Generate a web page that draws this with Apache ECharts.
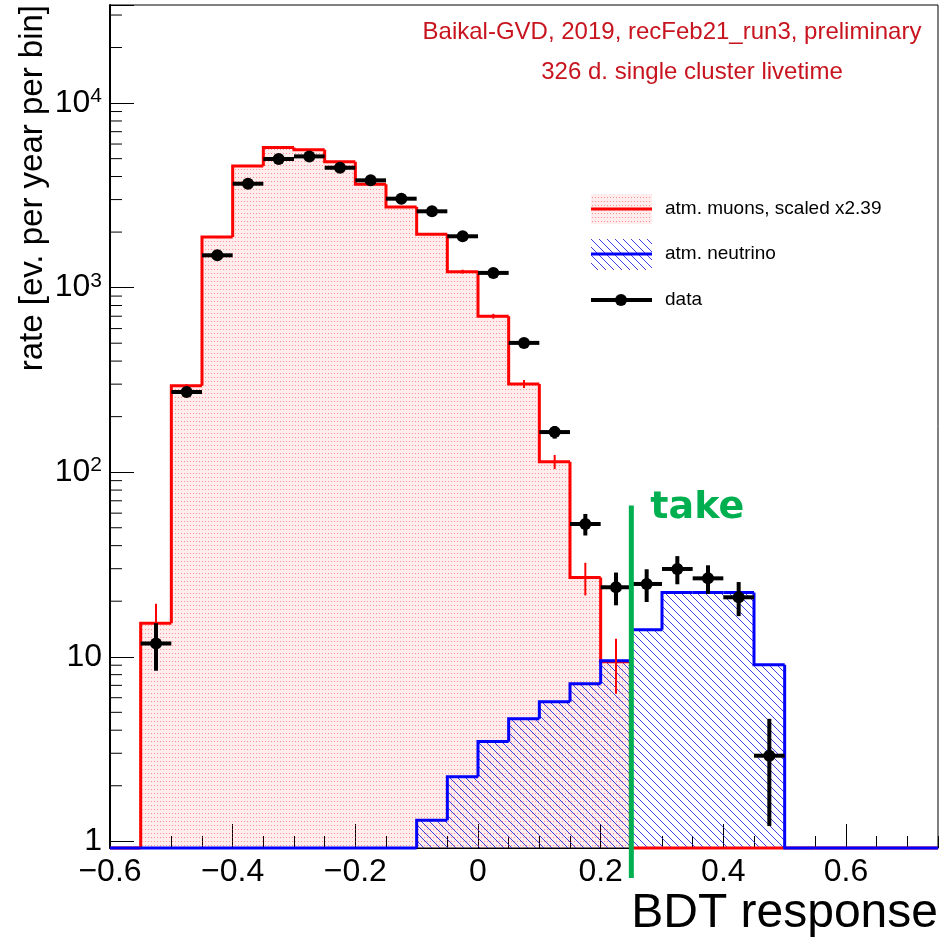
<!DOCTYPE html>
<html><head><meta charset="utf-8">
<script src="https://cdn.jsdelivr.net/npm/echarts@6/dist/echarts.min.js"></script>
<style>html,body{margin:0;padding:0;background:#fff}#c{width:946px;height:945px}</style>
</head><body><div id="c"></div>
<script>
// ---------- data ----------
const binEdges = [-0.6,-0.55,-0.5,-0.45,-0.4,-0.35,-0.3,-0.25,-0.2,-0.15,-0.1,-0.05,0,0.05,0.1,0.15,0.2,0.25,0.3,0.35,0.4,0.45,0.5,0.55,0.6,0.65,0.7,0.75];
const muons    = [0,15.2,294,1880,4560,5740,5590,4810,3630,2735,1945,1221,700,301,114,26.9,9.4,0,0,0,0,0,0,0,0,0,0];
const muonErr  = [0,4.2,6,25,40,45,45,40,35,30,25,30,21,15,10,5.4,3.1,0,0,0,0,0,0,0,0,0,0];
const neutrinos= [0,0,0,0,0,0,0,0,0,0,1.30,2.24,3.47,4.62,5.71,7.15,9.5,14.0,22.3,22.3,22.3,9.06,0,0,0,0,0];
const dataVals = [null,11.8,272,1497,3657,4978,5143,4464,3814,3034,2592,1898,1202,502,165,52.4,23.8,24.8,29.9,26.6,21.0,2.91,null,null,null,null,null];
const dataErr  = [null,3.4,16,38,60,70,72,66,62,55,50,44,35,22,13,7,4.8,5,5.2,4.7,4.4,1.7,null,null,null,null,null];
const yMajorTicks = [1,10,100,1000,10000];
const yMinorTicks = [2,3,4,5,6,7,8,9,20,30,40,50,60,70,80,90,200,300,400,500,600,700,800,900,2000,3000,4000,5000,6000,7000,8000,9000,20000,30000];
const cutValue = 0.25;
const cutLineTop = 66;
const Y_MIN = 0.92, Y_MAX = 34000;

// ---------- patterns ----------
function dotPattern() {
  const c = document.createElement('canvas'); c.width = 3; c.height = 4;
  const g = c.getContext('2d');
  g.fillStyle = 'rgba(255,0,0,0.07)'; g.fillRect(0,0,3,4);
  g.fillStyle = 'rgba(255,50,50,0.5)'; g.fillRect(1,1,1,1);
  return {image: c, repeat: 'repeat'};
}
function hatchPattern() {
  const n = 8;
  const c = document.createElement('canvas'); c.width = n; c.height = n;
  const g = c.getContext('2d'); g.fillStyle = 'rgba(30,30,220,0.85)';
  for (let i = 0; i < n; i++) g.fillRect(i, i, 1, 1);
  return {image: c, repeat: 'repeat'};
}
const RED_FILL = dotPattern();
const BLUE_FILL = hatchPattern();
const FONT = '"Liberation Sans", Arial, Helvetica, sans-serif';

// ---------- helpers ----------
function yPix(api, cs, v) { return v > Y_MIN ? api.coord([0, v])[1] : cs.y + cs.height; }
function binItems(vals) { return vals.map((v, i) => [binEdges[i], binEdges[i+1], v, i > 0 ? vals[i-1] : 0]); }

function fillRender(pattern) {
  return function (params, api) {
    const cs = params.coordSys;
    const v = api.value(2);
    if (!(v > Y_MIN)) return null;
    const x0 = api.coord([api.value(0), 1])[0], x1 = api.coord([api.value(1), 1])[0];
    const yv = yPix(api, cs, v), yb = cs.y + cs.height;
    return {type: 'rect', shape: {x: x0, y: yv, width: x1 - x0, height: yb - yv}, style: {fill: pattern}};
  };
}
function outlineRender(color) {
  return function (params, api) {
    const cs = params.coordSys;
    const v = api.value(2) || 0, pv = api.value(3) || 0;
    const x0 = api.coord([api.value(0), 1])[0], x1 = api.coord([api.value(1), 1])[0];
    const yv = yPix(api, cs, v), yp = yPix(api, cs, pv);
    return {type: 'polyline', shape: {points: [[x0, yp], [x0, yv], [x1, yv]]},
            style: {stroke: color, lineWidth: 3, fill: null, lineJoin: 'miter'}};
  };
}

const centers = binEdges.slice(0, -1).map((e, i) => (e + binEdges[i+1]) / 2);
const muonErrItems = [], dataItems = [];
muons.forEach((v, i) => { if (v > 0 && muonErr[i] > 0) muonErrItems.push([centers[i], v, muonErr[i]]); });
dataVals.forEach((v, i) => { if (v != null) dataItems.push([centers[i], v, dataErr[i], binEdges[i], binEdges[i+1]]); });

const xFmt = v => {
  if (Math.abs(v - 0.75) < 1e-6) return '';
  const r = Math.round(v * 10) / 10;
  return (r < 0 ? '\u2212' : '') + Math.abs(r);
};
const yFmt = v => {
  const l = Math.log10(v), e = Math.round(l);
  if (Math.abs(l - e) > 1e-6 || yMajorTicks.indexOf(Math.pow(10, e)) < 0) return '';
  if (e === 0) return '{b|1}';
  if (e === 1) return '{b|10}';
  return '{b|10}{s|' + e + '}';
};

const chart = echarts.init(document.getElementById('c'), null, {renderer: 'canvas'});
const option = {
  animation: false,
  backgroundColor: '#ffffff',
  grid: {left: 110, right: 8, top: 5, bottom: 97, show: true, borderColor: '#000', borderWidth: 1, backgroundColor: 'transparent'},
  xAxis: [
    {type: 'value', min: -0.6, max: 0.75, interval: 0.2, position: 'bottom',
     axisLine: {show: true, onZero: false, lineStyle: {color: '#000', width: 1}},
     axisTick: {show: true, inside: true, length: 24, lineStyle: {color: '#000', width: 1}},
     axisLabel: {margin: 8, fontSize: 32, fontFamily: FONT, color: '#000', formatter: xFmt, showMaxLabel: false},
     splitLine: {show: false}},
    {type: 'value', min: -0.6, max: 0.75, interval: 0.05, position: 'bottom',
     axisLine: {show: false, onZero: false},
     axisTick: {show: true, inside: true, length: 12, lineStyle: {color: '#000', width: 1}},
     axisLabel: {show: false}, splitLine: {show: false}}
  ],
  yAxis: {type: 'log', logBase: 10, min: Y_MIN, max: Y_MAX,
    axisLine: {show: true, onZero: false, lineStyle: {color: '#000', width: 2}},
    axisTick: {show: true, inside: true, length: 24, lineStyle: {color: '#000', width: 1}},
    axisLabel: {margin: 8, formatter: yFmt, showMinLabel: true, showMaxLabel: true,
      rich: {b: {fontSize: 32, fontFamily: FONT, color: '#000', lineHeight: 34},
             s: {fontSize: 21, fontFamily: FONT, color: '#000', lineHeight: 22, verticalAlign: 'top'}}},
    splitLine: {show: false}, minorTick: {show: false}},
  series: [
    {type: 'custom', name: 'muonFill', xAxisIndex: 0, yAxisIndex: 0, data: binItems(muons), encode: {x: 0, y: 2},
     renderItem: fillRender(RED_FILL), silent: true},
    {type: 'custom', name: 'nuFill', xAxisIndex: 0, data: binItems(neutrinos), encode: {x: 0, y: 2},
     renderItem: fillRender(BLUE_FILL), silent: true},
    {type: 'custom', name: 'muonLine', xAxisIndex: 0, data: binItems(muons), encode: {x: 0, y: 2},
     renderItem: outlineRender('#ff0000'), silent: true},
    {type: 'custom', name: 'nuLine', xAxisIndex: 0, data: binItems(neutrinos), encode: {x: 0, y: 2},
     renderItem: outlineRender('#0000ff'), silent: true},
    {type: 'custom', name: 'muonErr', xAxisIndex: 0, data: muonErrItems, encode: {x: 0, y: 1}, silent: true,
     renderItem: (params, api) => {
       const cs = params.coordSys;
       const x = api.coord([api.value(0), 1])[0], v = api.value(1), e = api.value(2);
       return {type: 'line', shape: {x1: x, y1: yPix(api, cs, v + e), x2: x, y2: yPix(api, cs, Math.max(v - e, Y_MIN * 0.999))},
               style: {stroke: '#ff0000', lineWidth: 2}};
     }},
    {type: 'custom', name: 'data', xAxisIndex: 0, data: dataItems, encode: {x: 0, y: 1}, silent: true,
     renderItem: (params, api) => {
       const cs = params.coordSys;
       const v = api.value(1), e = api.value(2);
       const p = api.coord([api.value(0), v]);
       const x0 = api.coord([api.value(3), v])[0], x1 = api.coord([api.value(4), v])[0];
       return {type: 'group', children: [
         {type: 'line', shape: {x1: x0, y1: p[1], x2: x1, y2: p[1]}, style: {stroke: '#000', lineWidth: 4}},
         {type: 'line', shape: {x1: p[0], y1: yPix(api, cs, v + e), x2: p[0], y2: yPix(api, cs, v - e)}, style: {stroke: '#000', lineWidth: 4}},
         {type: 'circle', shape: {cx: p[0], cy: p[1], r: 6}, style: {fill: '#000'}}
       ]};
     }},
    {type: 'custom', name: 'yMinor', xAxisIndex: 0, data: yMinorTicks.map(v => [-0.6, v]), encode: {x: 0, y: 1}, silent: true,
     renderItem: (params, api) => {
       const cs = params.coordSys;
       const y = api.coord([0, api.value(1)])[1];
       return {type: 'line', shape: {x1: cs.x, y1: y, x2: cs.x + 12, y2: y}, style: {stroke: '#000', lineWidth: 1}};
     }},
    {type: 'custom', name: 'cut', xAxisIndex: 0, data: [[cutValue, cutLineTop]], encode: {x: 0, y: 1}, silent: true, clip: false,
     renderItem: (params, api) => {
       const cs = params.coordSys;
       const p = api.coord([api.value(0), api.value(1)]);
       return {type: 'group', children: [
         {type: 'line', shape: {x1: p[0], y1: p[1], x2: p[0], y2: cs.y + cs.height + 30}, style: {stroke: '#00b050', lineWidth: 5}},
         {type: 'text', x: p[0] + 19, y: p[1] + 3, style: {text: 'take', fill: '#00b050', font: 'bold 38px "DejaVu Sans", sans-serif',
           align: 'left', textAlign: 'left', verticalAlign: 'middle', textVerticalAlign: 'middle'}}
       ]};
     }}
  ],
  graphic: [
    {type: 'text', x: 672, y: 32, style: {text: 'Baikal-GVD, 2019, recFeb21_run3, preliminary', fill: '#c8141e', font: '24px ' + FONT,
      align: 'center', textAlign: 'center', verticalAlign: 'middle', textVerticalAlign: 'middle'}},
    {type: 'text', x: 692, y: 72, style: {text: '326 d. single cluster livetime', fill: '#c8141e', font: '24px ' + FONT,
      align: 'center', textAlign: 'center', verticalAlign: 'middle', textVerticalAlign: 'middle'}},
    {type: 'text', x: 33, y: 5, rotation: Math.PI / 2, style: {text: 'rate [ev. per year per bin]', fill: '#000', font: '33px ' + FONT,
      align: 'right', textAlign: 'right', verticalAlign: 'middle', textVerticalAlign: 'middle'}},
    {type: 'text', x: 938, y: 914, style: {text: 'BDT response', fill: '#000', font: '48px ' + FONT,
      align: 'right', textAlign: 'right', verticalAlign: 'middle', textVerticalAlign: 'middle'}},
    // legend
    {type: 'rect', shape: {x: 591, y: 194, width: 61, height: 30}, style: {fill: RED_FILL}},
    {type: 'line', shape: {x1: 591, y1: 209, x2: 652, y2: 209}, style: {stroke: '#ff0000', lineWidth: 3}},
    {type: 'text', x: 665, y: 209, style: {text: 'atm. muons, scaled x2.39', fill: '#000', font: '19px ' + FONT,
      align: 'left', textAlign: 'left', verticalAlign: 'middle', textVerticalAlign: 'middle'}},
    {type: 'rect', shape: {x: 591, y: 239, width: 61, height: 31}, style: {fill: BLUE_FILL}},
    {type: 'line', shape: {x1: 591, y1: 254, x2: 652, y2: 254}, style: {stroke: '#0000ff', lineWidth: 3}},
    {type: 'text', x: 665, y: 254, style: {text: 'atm. neutrino', fill: '#000', font: '19px ' + FONT,
      align: 'left', textAlign: 'left', verticalAlign: 'middle', textVerticalAlign: 'middle'}},
    {type: 'line', shape: {x1: 591, y1: 300, x2: 652, y2: 300}, style: {stroke: '#000', lineWidth: 4}},
    {type: 'circle', shape: {cx: 621, cy: 300, r: 6}, style: {fill: '#000'}},
    {type: 'text', x: 665, y: 300, style: {text: 'data', fill: '#000', font: '19px ' + FONT,
      align: 'left', textAlign: 'left', verticalAlign: 'middle', textVerticalAlign: 'middle'}}
  ]
};
chart.setOption(option);
</script></body></html>
